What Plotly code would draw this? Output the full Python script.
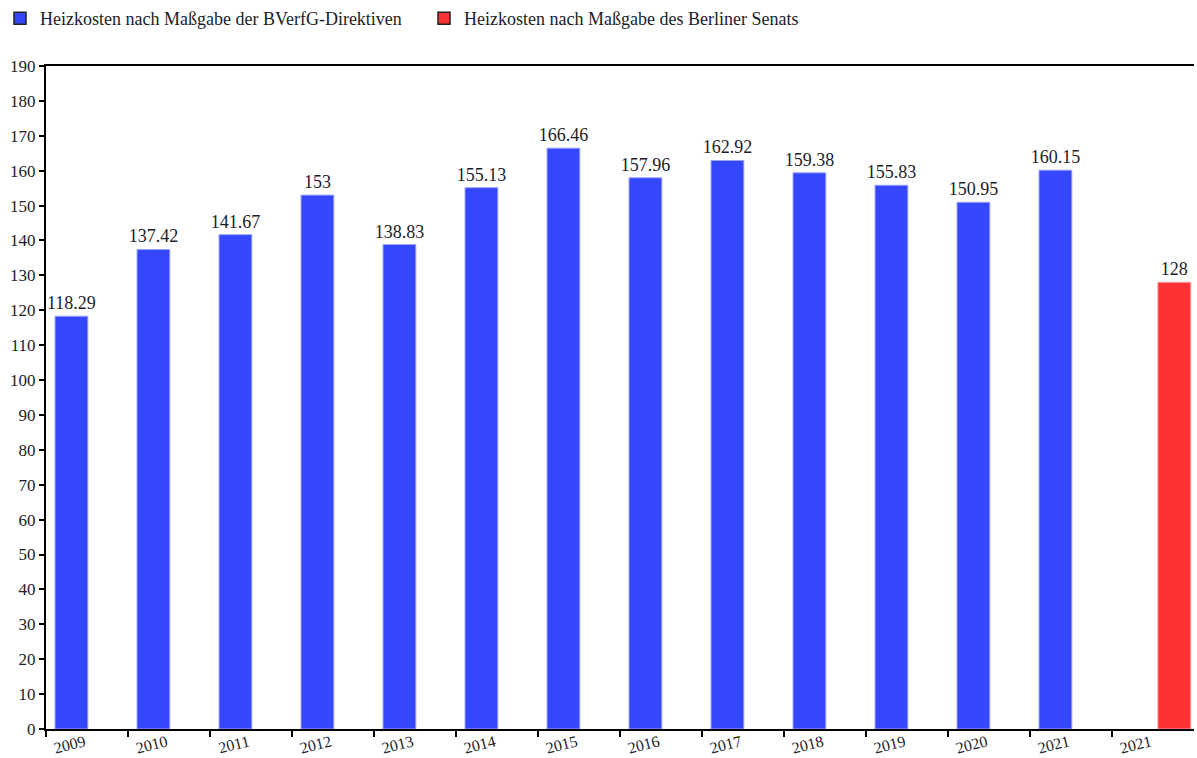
import plotly.graph_objects as go

years = ["2009", "2010", "2011", "2012", "2013", "2014", "2015", "2016",
         "2017", "2018", "2019", "2020", "2021", "2021"]
bverfg_values = [118.29, 137.42, 141.67, 153, 138.83, 155.13, 166.46, 157.96,
                 162.92, 159.38, 155.83, 150.95, 160.15]
senat_values = [128]
senat_index = [13]

series_names = ["Heizkosten nach Maßgabe der BVerfG-Direktiven",
                "Heizkosten nach Maßgabe des Berliner Senats"]

BLUE = "#3447fc"
RED = "#fd3235"
FONT = "Liberation Serif"
TXT = "#1c1c2a"

fig = go.Figure()

pos_blue = list(range(len(bverfg_values)))

fig.add_trace(go.Bar(
    x=pos_blue, y=bverfg_values, width=0.4, offset=-0.39,
    marker=dict(color=BLUE, line=dict(color="#9aa4ff", width=1)),
    text=[f"{v:g}" for v in bverfg_values], textposition="outside",
    constraintext="none",
    textfont=dict(family=FONT, size=18, color=TXT),
    cliponaxis=False, showlegend=False, name=series_names[0],
))
fig.add_trace(go.Bar(
    x=senat_index, y=senat_values, width=0.4, offset=0.06,
    marker=dict(color=RED, line=dict(color="#ff9a9a", width=1)),
    text=[f"{v:g}" for v in senat_values], textposition="outside",
    constraintext="none",
    textfont=dict(family=FONT, size=18, color=TXT),
    cliponaxis=False, showlegend=False, name=series_names[1],
))
# legend entries
for name, col in zip(series_names, [BLUE, RED]):
    fig.add_trace(go.Bar(
        x=[None], y=[None], name=name,
        marker=dict(color=col, line=dict(color="#222222", width=1.5)),
    ))

fig.update_layout(
    width=1197, height=758,
    margin=dict(l=46, r=3, t=66, b=29, autoexpand=False),
    paper_bgcolor="white", plot_bgcolor="white",
    font=dict(family=FONT, size=16, color=TXT),
    barmode="overlay",
    showlegend=True,
    legend=dict(orientation="h", x=0, y=1, xref="container", yref="container",
                xanchor="left", yanchor="top", font=dict(family=FONT, size=18, color=TXT),
                itemwidth=30, bgcolor="rgba(0,0,0,0)", traceorder="normal",
                entrywidth=379, entrywidthmode="pixels"),
    xaxis=dict(
        range=[-0.5, 13.5], tickmode="array",
        tickvals=[i - 0.03 for i in range(len(years))], ticktext=years,
        tickangle=-14, ticks="", showline=True, linecolor="black", linewidth=2,
        mirror=True, showgrid=False, zeroline=False, automargin=False,
        ticklabelstandoff=-4,
        tickfont=dict(family=FONT, size=16, color=TXT),
        minor=dict(tickmode="array", tickvals=[i - 0.5 for i in range(len(years))],
                   ticks="outside", ticklen=6, tickwidth=1.5, tickcolor="black",
                   showgrid=False),
    ),
    yaxis=dict(
        range=[0, 190], tickmode="linear", tick0=0, dtick=10,
        ticks="outside", ticklen=5, tickwidth=1.5, tickcolor="black",
        showline=True, linecolor="black", linewidth=2, showgrid=False,
        zeroline=False, automargin=False,
        tickfont=dict(family=FONT, size=17, color=TXT),
    ),
)

fig.write_html("out.html")
